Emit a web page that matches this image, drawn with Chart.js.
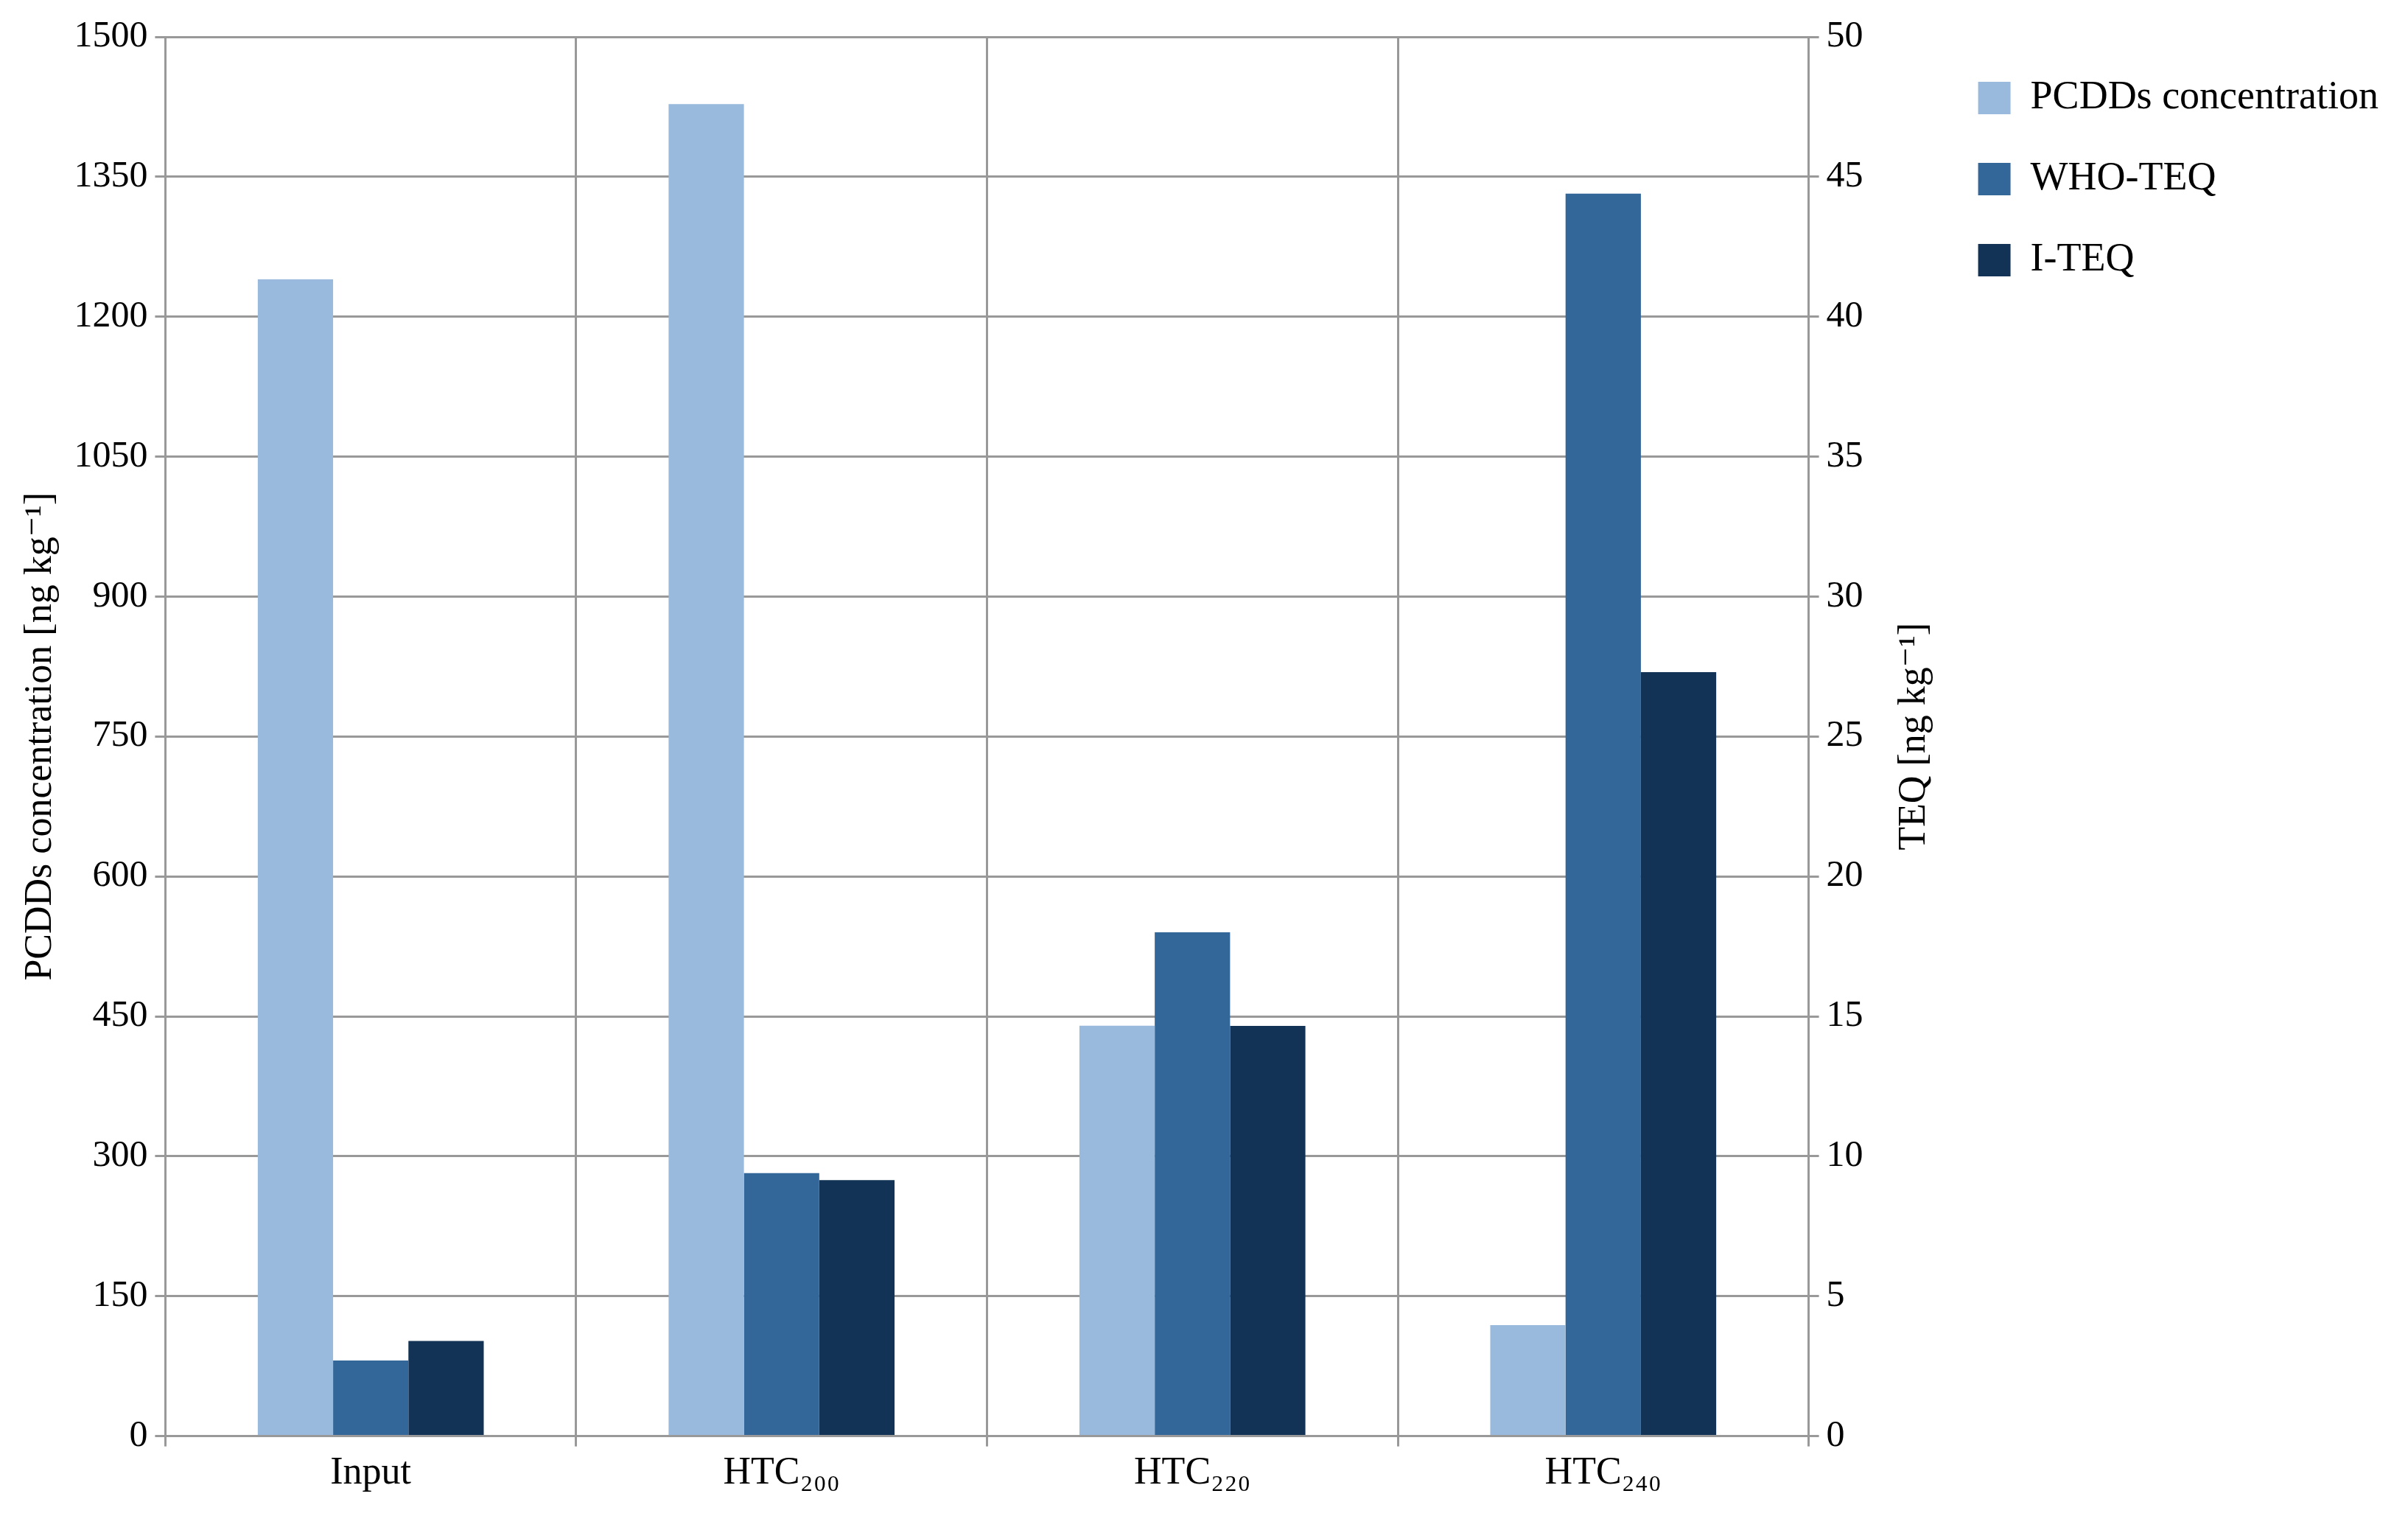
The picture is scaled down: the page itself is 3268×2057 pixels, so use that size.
<!DOCTYPE html>
<html>
<head>
<meta charset="utf-8">
<script src="https://cdn.jsdelivr.net/npm/chart.js@4"></script>
<style>
html, body { margin: 0; background: #fff; }
#wrap { width: 3268px; height: 2057px; }
</style>
</head>
<body>
<div id="wrap"><canvas id="chart"></canvas></div>
<script>
var categories = ["Input", "HTC₂₀₀", "HTC₂₂₀", "HTC₂₄₀"];
var pcdds = [1240, 1428, 440, 119];
var whoTeq = [2.7, 9.4, 18.0, 44.4];
var iTeq = [3.4, 9.15, 14.66, 27.3];

var serif = "'Liberation Serif', 'DejaVu Serif', serif";

// right axis title reads bottom-to-top like the left one
var rightTitle = {
	id: "rightTitle",
	afterDraw: function(chart) {
		var s = chart.scales.y1;
		var c = chart.ctx;
		c.save();
		c.translate(s.right - 30, (s.top + s.bottom) / 2);
		c.rotate(-Math.PI / 2);
		c.font = "52px " + serif;
		c.fillStyle = "#000";
		c.textAlign = "center";
		c.textBaseline = "middle";
		c.fillText("TEQ [ng kg⁻¹]", 0, 0);
		c.restore();
	}
};

var ctx = document.getElementById("chart").getContext("2d");
var chart = new Chart(ctx, {
	type: "bar",
	data: {
		labels: categories,
		datasets: [
			{ label: "PCDDs concentration", data: pcdds, backgroundColor: "#99badd", yAxisID: "y" },
			{ label: "WHO-TEQ", data: whoTeq, backgroundColor: "#336699", yAxisID: "y1" },
			{ label: "I-TEQ", data: iTeq, backgroundColor: "#123355", yAxisID: "y1" }
		]
	},
	plugins: [rightTitle],
	options: {
		responsive: true,
		maintainAspectRatio: false,
		animation: false,
		layout: { padding: { top: 50, right: 30, bottom: 20, left: 20 } },
		datasets: { bar: { categoryPercentage: 0.55, barPercentage: 1 } },
		plugins: {
			legend: {
				position: "right",
				align: "start",
				maxWidth: 900,
				labels: {
					font: { family: serif, size: 54 },
					color: "#000",
					boxWidth: 44,
					boxHeight: 44,
					padding: 56
				}
			},
			tooltip: { enabled: false }
		},
		scales: {
			x: {
				grid: { color: "#999", lineWidth: 3, offset: true, tickLength: 14 },
				border: { color: "#999", width: 3 },
				ticks: { font: { family: serif, size: 52 }, color: "#000", padding: 6 }
			},
			y: {
				position: "left",
				min: 0, max: 1500,
				ticks: { stepSize: 150, font: { family: serif, size: 50 }, color: "#000", padding: 10,
					callback: function(v) { return String(v); } },
				grid: { color: "#999", lineWidth: 3, tickLength: 14 },
				border: { color: "#999", width: 3 },
				title: { display: true, text: "PCDDs concentration [ng kg⁻¹]", font: { family: serif, size: 52 }, color: "#000" }
			},
			y1: {
				position: "right",
				min: 0, max: 50,
				ticks: { stepSize: 5, font: { family: serif, size: 50 }, color: "#000", padding: 10,
					callback: function(v) { return String(v); } },
				grid: { drawOnChartArea: false, color: "#999", lineWidth: 3, tickLength: 14 },
				border: { color: "#999", width: 3 },
				afterFit: function(s) { s.width += 90; }
			}
		}
	}
});
</script>
</body>
</html>
